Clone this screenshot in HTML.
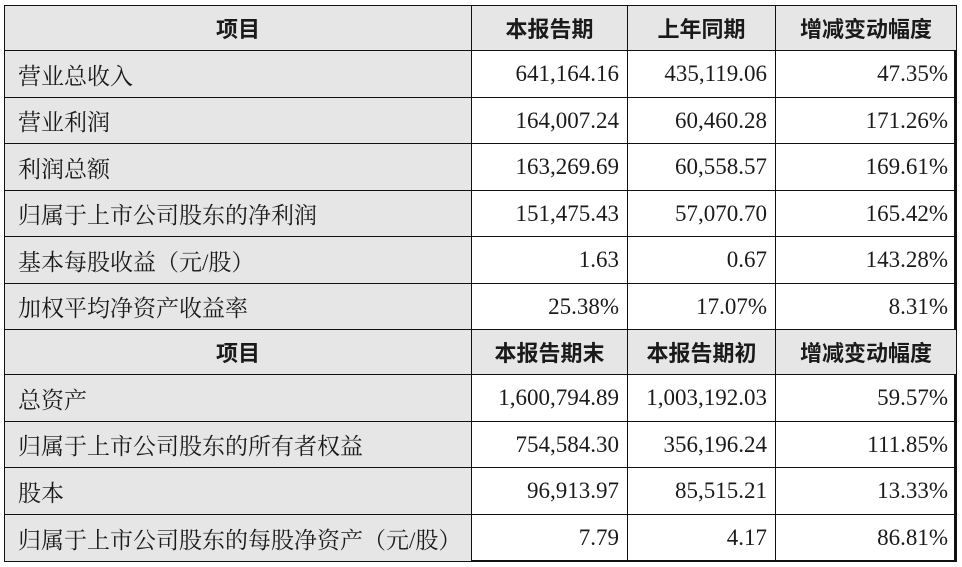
<!DOCTYPE html>
<html><head><meta charset="utf-8"><style>
body{margin:0;width:962px;height:567px;background:#fff;position:relative;overflow:hidden}
.c{position:absolute;box-sizing:border-box;border:1px solid #111;display:flex;align-items:center;font-size:22px;color:#1a1a1a}
.g{background:#e6e6e6}
.h{justify-content:center;font-family:"Noto Sans CJK SC",sans-serif;font-weight:bold;font-size:22px}
.l{padding-left:13px;font-family:"Liberation Serif","Noto Serif CJK SC",serif;font-size:23px;white-space:nowrap}
.n{justify-content:flex-end;padding-right:8px;font-family:"Liberation Serif","Noto Serif CJK SC",serif;font-size:23px}
#frame{position:absolute;left:4px;top:5px;width:952px;height:557px;border:2px solid #111;box-sizing:border-box;pointer-events:none}
</style></head><body>
<div id="frame"></div>
<script>
const ys=[5,50,97,143,190,236,283,329,374,421,467,514,561];
const xs=[4,471,627,775,956];
const rows=[
["h","项目","本报告期","上年同期","增减变动幅度"],
["r","营业总收入","641,164.16","435,119.06","47.35%"],
["r","营业利润","164,007.24","60,460.28","171.26%"],
["r","利润总额","163,269.69","60,558.57","169.61%"],
["r","归属于上市公司股东的净利润","151,475.43","57,070.70","165.42%"],
["r","基本每股收益（元/股）","1.63","0.67","143.28%"],
["r","加权平均净资产收益率","25.38%","17.07%","8.31%"],
["h","项目","本报告期末","本报告期初","增减变动幅度"],
["r","总资产","1,600,794.89","1,003,192.03","59.57%"],
["r","归属于上市公司股东的所有者权益","754,584.30","356,196.24","111.85%"],
["r","股本","96,913.97","85,515.21","13.33%"],
["r","归属于上市公司股东的每股净资产（元/股）","7.79","4.17","86.81%"]];
let h="";
rows.forEach((r,i)=>{for(let j=0;j<4;j++){
 let cls=r[0]=="h"?"c g h":(j==0?"c g l":"c n");
 h+=`<div class="${cls}" style="left:${xs[j]}px;top:${ys[i]}px;width:${xs[j+1]-xs[j]+1}px;height:${ys[i+1]-ys[i]+1}px">${r[j+1]}</div>`;}});
document.body.insertAdjacentHTML("beforeend",h);
</script>
</body></html>
